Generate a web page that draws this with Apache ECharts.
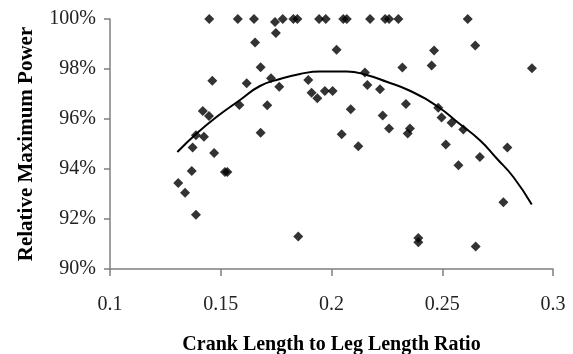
<!DOCTYPE html>
<html>
<head>
<meta charset="utf-8">
<script src="https://cdn.jsdelivr.net/npm/echarts@6/dist/echarts.min.js"></script>
<style>
  html, body { margin: 0; padding: 0; background: #fff; }
  #chart { width: 573px; height: 354px; }
</style>
</head>
<body>
<div id="chart"></div>
<script>
// scatter points: crank/leg ratio and relative max power (%)
var pointRatio = [
    0.1448, 0.1577, 0.1650, 0.1780, 0.1828, 0.1846, 0.1944, 0.1974, 0.2053, 0.2069,
    0.2174, 0.2242, 0.2260, 0.2302, 0.2615, 0.1745,
    0.1462, 0.1617, 0.1419, 0.1447, 0.1584, 0.1388, 0.1424, 0.1373, 0.1470, 0.1369,
    0.1519, 0.1530, 0.1308, 0.1339, 0.1388,
    0.1749, 0.1655, 0.2023, 0.1680, 0.2320, 0.2151, 0.1727, 0.1764, 0.1895, 0.2162,
    0.2219, 0.1910, 0.1936, 0.1970, 0.2005, 0.1710, 0.2087, 0.2336, 0.2231, 0.2260,
    0.2354, 0.2344, 0.1680, 0.2046, 0.2121, 0.1850,
    0.2649, 0.2463, 0.2452, 0.2905, 0.2482, 0.2497, 0.2542, 0.2595, 0.2516, 0.2573,
    0.2670, 0.2794, 0.2776, 0.2392, 0.2392, 0.2651
];
var pointPower = [
    100, 100, 100, 100, 100, 100, 100, 100, 100, 100,
    100, 100, 100, 100, 100, 99.88,
    97.53, 97.43, 96.32, 96.12, 96.56, 95.35, 95.29, 94.86, 94.64, 93.92,
    93.88, 93.88, 93.44, 93.05, 92.17,
    99.44, 99.06, 98.77, 98.07, 98.06, 97.86, 97.63, 97.29, 97.56, 97.36,
    97.19, 97.05, 96.83, 97.12, 97.12, 96.55, 96.39, 96.60, 96.14, 95.62,
    95.62, 95.42, 95.45, 95.39, 94.91, 91.30,
    98.94, 98.74, 98.14, 98.03, 96.45, 96.06, 95.85, 95.58, 94.98, 94.15,
    94.48, 94.86, 92.67, 91.24, 91.07, 90.90
];

// trend curve
var curveRatio = [0.1304, 0.1391, 0.1482, 0.1587, 0.1677, 0.1767, 0.1858, 0.1948, 0.2069,
    0.2159, 0.2249, 0.2354, 0.2482, 0.2572, 0.2670, 0.2746, 0.2821, 0.2904];
var curvePower = [94.68, 95.42, 96.09, 96.76, 97.32, 97.60, 97.80, 97.90, 97.90,
    97.76, 97.49, 97.13, 96.48, 95.85, 95.15, 94.42, 93.68, 92.58];

var points = [];
for (var i = 0; i < pointRatio.length; i++) {
    points.push([pointRatio[i], pointPower[i]]);
}
var curve = [];
for (var j = 0; j < curveRatio.length; j++) {
    curve.push([curveRatio[j], curvePower[j]]);
}

var axisGray = '#7f7f7f';
var serif = '"Liberation Serif", "Times New Roman", serif';

var myChart = echarts.init(document.getElementById('chart'));
var option = {
    backgroundColor: '#fff',
    animation: false,
    grid: { left: 110, right: 20, top: 19, bottom: 85, outerBoundsMode: 'none', containLabel: false },
    xAxis: {
        type: 'value',
        min: 0.1,
        max: 0.3,
        interval: 0.05,
        name: 'Crank Length to Leg Length Ratio',
        nameLocation: 'middle',
        nameGap: 66,
        nameTextStyle: { fontFamily: serif, fontWeight: 'bold', fontSize: 20, color: '#000' },
        axisLine: { lineStyle: { color: axisGray, width: 1.5 } },
        axisTick: { length: 7, lineStyle: { color: axisGray, width: 1.5 } },
        axisLabel: { margin: 26, fontFamily: serif, fontSize: 20, color: '#222' },
        splitLine: { show: false }
    },
    yAxis: {
        type: 'value',
        min: 90,
        max: 100,
        interval: 2,
        name: 'Relative Maximum Power',
        nameLocation: 'middle',
        nameGap: 73,
        nameTextStyle: { fontFamily: serif, fontWeight: 'bold', fontSize: 21, color: '#000' },
        axisLine: { show: true, lineStyle: { color: axisGray, width: 1.5 } },
        axisTick: { show: true, length: 6, lineStyle: { color: axisGray, width: 1.5 } },
        axisLabel: { margin: 14, fontFamily: serif, fontSize: 20, color: '#222', formatter: '{value}%' },
        splitLine: { show: false }
    },
    series: [
        {
            type: 'scatter',
            data: points,
            symbol: 'diamond',
            symbolSize: 10,
            itemStyle: { color: '#000' }
        },
        {
            type: 'line',
            data: curve,
            smooth: true,
            showSymbol: false,
            symbol: 'none',
            lineStyle: { color: '#000', width: 2 }
        }
    ]
};
myChart.setOption(option);
</script>
</body>
</html>
